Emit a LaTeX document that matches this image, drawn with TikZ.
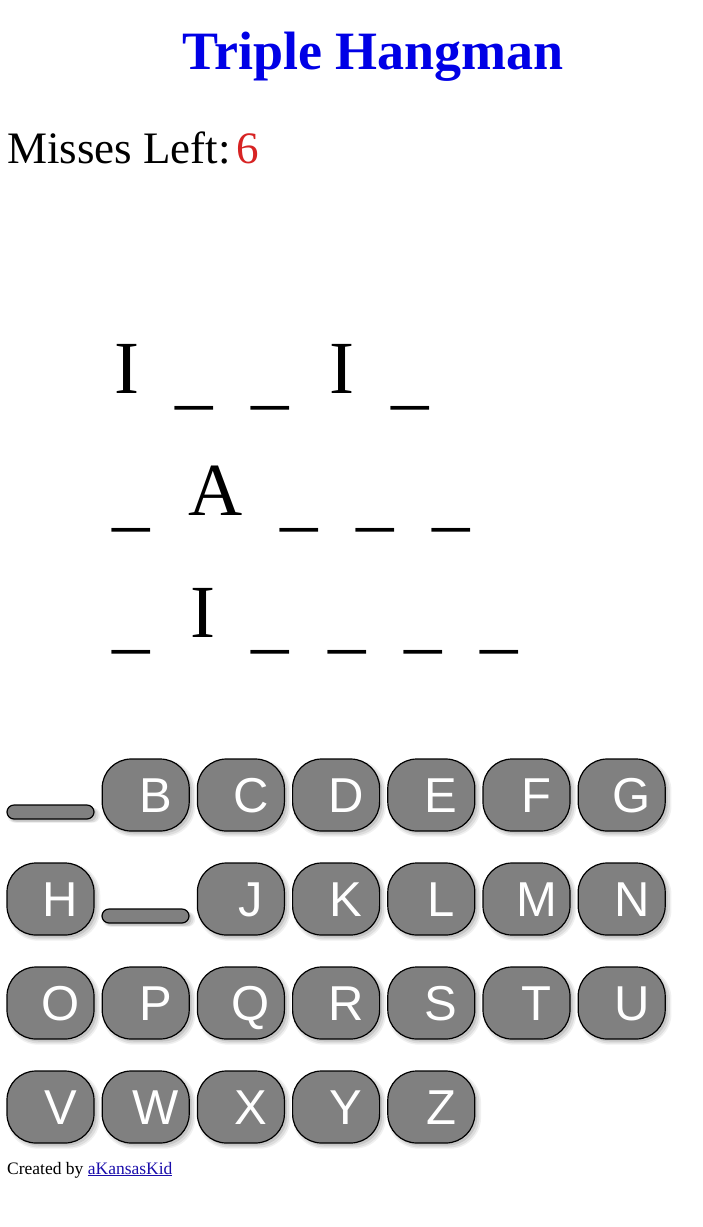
\documentclass[tikz,border=0pt]{standalone}
\usepackage{fontspec}
\setmainfont{Liberation Serif}
\newfontfamily\btnfont{Liberation Sans}
\usetikzlibrary{shadows}
\definecolor{titleblue}{RGB}{0,0,230}
\definecolor{missred}{RGB}{215,35,35}
\definecolor{linkblue}{RGB}{26,13,171}
\definecolor{keygray}{RGB}{128,128,128}
\tikzset{
  softshadow/.style={
    general shadow={shadow xshift=3pt,shadow yshift=-3pt,shadow scale=1.07,opacity=.06,fill=black},
    general shadow={shadow xshift=3pt,shadow yshift=-3pt,shadow scale=1.035,opacity=.08,fill=black},
    general shadow={shadow xshift=2.5pt,shadow yshift=-2.5pt,opacity=.1,fill=black}},
  keybtn/.style={draw=black, line width=1.2pt, fill=keygray, rounded corners=29pt,
    minimum width=87pt, minimum height=72pt, inner sep=0pt, softshadow},
  keybar/.style={draw=black, line width=1.2pt, fill=keygray, rounded corners=7pt,
    minimum width=87pt, minimum height=14pt, inner sep=0pt, softshadow},
  keylbl/.style={anchor=base, text=white, font=\btnfont\fontsize{49}{49}\selectfont, inner sep=0pt},
  wordch/.style={anchor=base west, inner sep=0pt, font=\fontsize{75}{75}\selectfont},
  blank/.style={wordch, yshift=-7pt},
  plaintext/.style={anchor=base west, inner sep=0pt},
}
\begin{document}
\begin{tikzpicture}[x=1pt,y=-1pt]
\fill[white] (0,0) rectangle (703,1227);
\useasboundingbox (0,0) rectangle (703,1227);

% title and counter
\node[plaintext, text=titleblue, font=\bfseries\fontsize{54}{54}\selectfont] (title) at (182,69) {Triple Hangman};
\node[plaintext, font=\fontsize{45}{45}\selectfont] (misses) at (7,163) {Misses Left:};
\node[plaintext, text=missred, font=\fontsize{45}{45}\selectfont] (misscount) at (236,163) {6};

% word 1
\node[wordch] (w1a) at (114,393) {I};
\node[blank] (w1b) at (175,393) {\textunderscore};
\node[blank] (w1c) at (251,393) {\textunderscore};
\node[wordch] (w1d) at (329,393) {I};
\node[blank] (w1e) at (391,393) {\textunderscore};
% word 2
\node[blank] (w2a) at (112,515) {\textunderscore};
\node[wordch] (w2b) at (188,515) {A};
\node[blank] (w2c) at (280,515) {\textunderscore};
\node[blank] (w2d) at (356,515) {\textunderscore};
\node[blank] (w2e) at (432,515) {\textunderscore};
% word 3
\node[blank] (w3a) at (112,637) {\textunderscore};
\node[wordch] (w3b) at (190,637) {I};
\node[blank] (w3c) at (251,637) {\textunderscore};
\node[blank] (w3d) at (328,637) {\textunderscore};
\node[blank] (w3e) at (404,637) {\textunderscore};
\node[blank] (w3f) at (480,637) {\textunderscore};

% used letters
\node[keybar] (kA) at (50.5,812) {};
\node[keybar] (kI) at (145.5,916) {};

% keyboard
\foreach \l/\c/\r in {B/1/0,C/2/0,D/3/0,E/4/0,F/5/0,G/6/0,
                      H/0/1,J/2/1,K/3/1,L/4/1,M/5/1,N/6/1,
                      O/0/2,P/1/2,Q/2/2,R/3/2,S/4/2,T/5/2,U/6/2,
                      V/0/3,W/1/3,X/2/3,Y/3/3,Z/4/3}{
  \node[keybtn] (k\l) at (50.5+95.2*\c, 795+104*\r) {};
  \node[keylbl] (t\l) at ([xshift=10pt,yshift=-17.5pt]k\l.center) {\l};
}

% footer
\node[plaintext, font=\fontsize{17.5}{17.5}\selectfont] (credit) at (7,1174)
  {Created by \textcolor{linkblue}{\underline{aKansasKid}}};
\end{tikzpicture}
\end{document}
